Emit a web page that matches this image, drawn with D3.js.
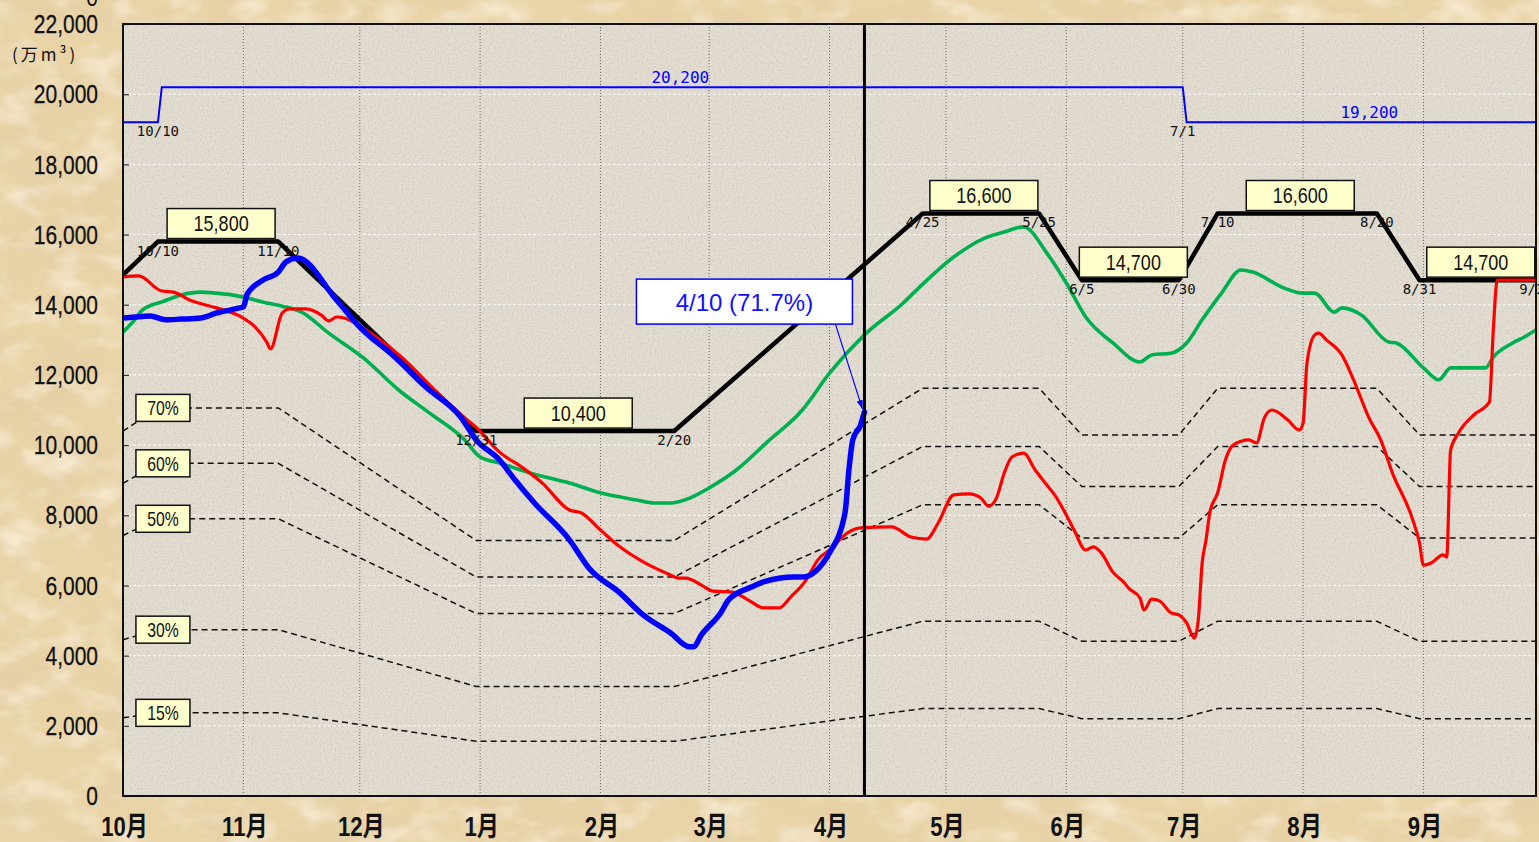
<!DOCTYPE html>
<html><head><meta charset="utf-8">
<script src="https://cdn.jsdelivr.net/npm/d3@7"></script>
<style>
html,body{margin:0;padding:0;overflow:hidden;background:#e8d2a5;}
svg{display:block;}
</style></head>
<body>
<svg id="chart" width="1539" height="842"></svg>
<script>
// ---------------- DATA ----------------
const months = ["10月","11月","12月","1月","2月","3月","4月","5月","6月","7月","8月","9月"];
const yTicks = [0,2000,4000,6000,8000,10000,12000,14000,16000,18000,20000,22000];
const yUnit = "(万m³)";

// rule curve (black)
const ruleDates  = ["10/1","10/10","11/10","12/31","2/20","4/25","5/25","6/5","6/30","7/10","8/20","8/31","9/30"];
const ruleValues = [14850,15800,15800,10400,10400,16600,16600,14700,14700,16600,16600,14700,14700];

// upper limit (thin blue)
const capDates  = ["10/1","10/10","10/11","7/1","7/2","9/30"];
const capValues = [19200,19200,20200,20200,19200,19200];

// percentage guide lines (of rule curve)
const pctLevels = [0.70,0.60,0.50,0.30,0.15];
const pctLabels = ["70%","60%","50%","30%","15%"];

// red series
const redDates = ["10/1","10/5","10/11","10/14","10/18","10/25","10/31","11/4","11/7","11/8","11/11","11/13","11/17","11/21","11/23","11/25","11/27","12/1","12/12","12/20","12/28","12/31",
"1/6","1/12","1/17","1/24","1/27","2/1","2/6","2/12","2/19","2/21","2/23","2/27","3/2","3/7","3/11","3/15","3/19","3/22","3/26","3/29","4/2","4/4","4/9","4/17","4/22","4/26","4/29",
"5/3","5/7","5/10","5/12","5/14","5/16","5/18","5/21","5/24","5/27","5/29","6/1","6/3","6/6","6/8","6/10","6/13","6/16","6/17","6/20","6/21","6/23","6/25","6/28","6/30",
"7/2","7/4","7/5","7/6","7/7","7/8","7/10","7/12","7/14","7/18","7/20","7/22","7/24","7/28","7/31","8/1","8/2","8/4","8/5","8/7","8/11","8/14","8/18","8/21","8/24","8/29","8/31",
"9/1","9/3","9/6","9/7","9/8","9/10","9/14","9/18","9/19","9/20","9/30"];
const redValues = [14790,14820,14390,14360,14140,13910,13680,13370,12940,12740,13760,13880,13880,13710,13540,13650,13620,13390,12480,11600,10780,10500,
9800,9350,8920,8150,8070,7580,7100,6670,6300,6210,6210,6010,5840,5810,5590,5360,5360,5670,6160,6730,7100,7350,7640,7670,7380,7320,7780,
8580,8610,8490,8260,8490,9200,9660,9770,9290,8860,8580,8010,7580,7010,7100,6930,6380,6070,5930,5640,5300,5610,5560,5220,5160,
4930,4500,5020,6640,7300,8090,8640,9580,10000,10150,10060,10770,11000,10720,10430,10630,12340,13140,13190,13000,12570,11860,10770,10150,9210,7950,7210,
6580,6640,6870,6810,9860,10340,10860,11230,13280,14700,14700];

// green series
const greenDates = ["10/1","10/4","10/6","10/11","10/16","10/21","10/25","10/29","11/2","11/7","11/11","11/16","11/23","12/2","12/11","12/19","12/28","1/1",
"1/6","1/14","1/24","2/1","2/10","2/15","2/19","2/24","3/1","3/8","3/16","3/25","4/1","4/10","4/20","4/24","5/3","5/11","5/16","5/21","5/27",
"6/1","6/6","6/13","6/20","6/23","6/28","7/2","7/6","7/11","7/16","7/19","7/27","8/1","8/4","8/9","8/11","8/16","8/23","8/25",
"9/1","9/5","9/8","9/14","9/17","9/19","9/24","9/27","9/30"];
const greenValues = [13220,13570,13850,14080,14280,14360,14330,14280,14190,14050,13960,13790,13190,12480,11570,10910,10150,9660,
9490,9200,8920,8640,8440,8350,8350,8490,8780,9290,10090,11000,12050,13140,14050,14480,15360,15900,16070,16220,15470,
14620,13650,12910,12370,12570,12620,12910,13570,14330,14990,14930,14480,14330,14330,13790,13910,13710,12940,12910,
12200,11860,12200,12200,12200,12510,12910,13080,13280];

// blue series (current year)
const blueDates = ["10/1","10/4","10/8","10/12","10/16","10/21","10/25","10/31","11/1","11/2","11/6","11/10","11/12","11/15","11/25","12/1","12/10","12/18","12/27","12/31",
"1/6","1/10","1/15","1/24","1/29","2/6","2/12","2/19","2/24","2/25","2/27","3/4","3/6","3/12","3/15","3/23","3/25","4/1","4/5","4/6","4/7","4/9","4/10"];
const blueValues = [13620,13650,13680,13570,13590,13620,13760,13910,13940,14300,14700,14930,15220,15330,14135,13365,12510,11655,10800,10145,
9575,9005,8350,7300,6500,5790,5160,4650,4250,4250,4590,5220,5590,5960,6100,6240,6240,6930,8070,9290,10150,10570,10940];

const currentDate = "4/10";
const currentLabel = "4/10 (71.7%)";

// ---------------- CHART ----------------
const W = 1539, H = 842;
const M = {left:123, right:1536, top:24, bottom:796};
const parseMD = s => { const [m,d] = s.split("/").map(Number); return new Date(Date.UTC(m >= 10 ? 2022 : 2023, m-1, d)); };

const x = d3.scaleUtc().domain([parseMD("10/1"), parseMD("9/30")]).range([M.left, M.right]);
const y = d3.scaleLinear().domain([0, 22000]).range([M.bottom, M.top]);

const zip = (ds, vs) => ds.map((d,i) => ({date: parseMD(d), label: d, value: vs[i]}));
const rule = zip(ruleDates, ruleValues);
const cap = zip(capDates, capValues);
const red = zip(redDates, redValues);
const green = zip(greenDates, greenValues);
const blue = zip(blueDates, blueValues);

const svg = d3.select("#chart");
const defs = svg.append("defs");
defs.html(`
<filter id="paper" x="0" y="0" width="1539" height="842" filterUnits="userSpaceOnUse">
  <feTurbulence type="fractalNoise" baseFrequency="0.01 0.018" numOctaves="5" seed="7"/>
  <feColorMatrix type="matrix" values="0 0 0 0 0.78  0 0 0 0 0.62  0 0 0 0 0.38  2.4 0 0 0 -1.05"/>
</filter>
<filter id="paper2" x="0" y="0" width="1539" height="842" filterUnits="userSpaceOnUse">
  <feTurbulence type="fractalNoise" baseFrequency="0.025 0.04" numOctaves="3" seed="21"/>
  <feColorMatrix type="matrix" values="0 0 0 0 0.97  0 0 0 0 0.90  0 0 0 0 0.76  1.7 0 0 0 -0.8"/>
</filter>
<filter id="grain" x="${M.left}" y="${M.top}" width="${M.right-M.left}" height="${M.bottom-M.top}" filterUnits="userSpaceOnUse">
  <feTurbulence type="fractalNoise" baseFrequency="0.6" numOctaves="2" seed="3"/>
  <feColorMatrix type="matrix" values="0 0 0 0 0.55  0 0 0 0 0.52  0 0 0 0 0.47  1.8 0 0 0 -0.85"/>
</filter>
<marker id="arr" viewBox="0 0 10 10" refX="10" refY="5" markerWidth="9" markerHeight="9" markerUnits="userSpaceOnUse" orient="auto">
  <path d="M0,1.5 L10,5 L0,8.5 z" fill="#0000ff"/>
</marker>
<clipPath id="plotclip"><rect x="${M.left}" y="${M.top}" width="${M.right-M.left}" height="${M.bottom-M.top}"/></clipPath>
`);

// background
svg.append("rect").attr("width", W).attr("height", H).attr("fill", "#e9d4a8");
svg.append("rect").attr("width", W).attr("height", H).attr("fill", "#fff").attr("filter", "url(#paper)");
svg.append("rect").attr("width", W).attr("height", H).attr("fill", "#fff").attr("filter", "url(#paper2)");
svg.append("rect").attr("x", M.left).attr("y", M.top).attr("width", M.right-M.left).attr("height", M.bottom-M.top).attr("fill", "#e3ddd1");
svg.append("rect").attr("x", M.left).attr("y", M.top).attr("width", M.right-M.left).attr("height", M.bottom-M.top).attr("fill", "#fff").attr("filter", "url(#grain)");

const monthStarts = months.map((m,i) => new Date(Date.UTC(i < 3 ? 2022 : 2023, (9+i) % 12, 1)));

// gridlines
const grid = svg.append("g");
grid.selectAll("line.h").data(yTicks.filter(v => v > 0 && v < 22000)).join("line")
  .attr("x1", M.left).attr("x2", M.right).attr("y1", d => y(d)).attr("y2", d => y(d))
  .attr("stroke", "#ffffff").attr("stroke-opacity", 0.85).attr("stroke-width", 1).attr("stroke-dasharray", "3,2");
grid.selectAll("line.v").data(monthStarts.slice(1)).join("line")
  .attr("x1", d => x(d)).attr("x2", d => x(d)).attr("y1", M.top).attr("y2", M.bottom)
  .attr("stroke", "#6f6a62").attr("stroke-width", 1).attr("stroke-dasharray", "1,2");

// y axis
const yAxis = svg.append("g").attr("transform", `translate(${M.left},0)`)
  .call(d3.axisLeft(y).tickValues(yTicks).tickFormat(d3.format(",")).tickSize(-6).tickPadding(25));
yAxis.select(".domain").remove();
yAxis.selectAll(".tick line").attr("stroke", "#333").attr("stroke-width", 1.2);
yAxis.selectAll(".tick text")
  .attr("x", null).attr("dy", null)
  .attr("transform", "translate(-25,0) scale(0.84,1)")
  .attr("text-anchor", "end").attr("dominant-baseline", "central")
  .attr("font-family", "'Liberation Sans', Arial, sans-serif").attr("font-size", 25).attr("fill", "#111")
  .attr("stroke", "#111").attr("stroke-width", 0.3);
// stray top label
svg.append("text").attr("transform", "translate(98,-3) scale(0.84,1)").attr("text-anchor", "end")
  .attr("dominant-baseline", "central").attr("font-family", "'Liberation Sans', Arial, sans-serif")
  .attr("font-size", 25).attr("fill", "#111").text("0");
svg.append("text").attr("x", 12).attr("y", 61).attr("font-family", "'Noto Sans CJK JP', sans-serif")
  .attr("font-size", 17).attr("letter-spacing", 3).attr("fill", "#111").text(yUnit);

// x axis
const xAxis = svg.append("g").attr("transform", `translate(0,${M.bottom})`)
  .call(d3.axisBottom(x).tickValues(monthStarts).tickFormat((d,i) => months[i]).tickSize(0).tickPadding(0));
xAxis.select(".domain").remove();
xAxis.selectAll(".tick text")
  .attr("y", null).attr("dy", null)
  .attr("transform", "translate(1,40) scale(0.82,1)")
  .attr("text-anchor", "middle")
  .attr("font-family", "'Liberation Sans', 'Noto Sans CJK JP', sans-serif").attr("font-weight", "bold")
  .attr("font-size", 27).attr("fill", "#111");

const plot = svg.append("g").attr("clip-path", "url(#plotclip)");

// percentage dashed lines
pctLevels.forEach(p => {
  plot.append("path")
    .attr("d", d3.line().x(d => x(d.date)).y(d => y(d.value * p))(rule))
    .attr("fill", "none").attr("stroke", "#111").attr("stroke-width", 1.5).attr("stroke-dasharray", "6,4");
});

// date labels at rule vertices and cap vertices
const monoFont = "'DejaVu Sans Mono', monospace";
const dateLabelG = svg.append("g");
rule.slice(1).forEach(d => {
  dateLabelG.append("text").attr("x", x(d.date)).attr("y", y(d.value) + 14)
    .attr("text-anchor", "middle").attr("font-family", monoFont).attr("font-size", 14).attr("fill", "#111").text(d.label);
});
// cap change dates, labelled under the lower level
[[cap[1], cap[1]], [cap[3], cap[4]]].forEach(([a, lo]) => {
  dateLabelG.append("text").attr("x", x(a.date)).attr("y", y(lo.value) + 14)
    .attr("text-anchor", "middle").attr("font-family", monoFont).attr("font-size", 14).attr("fill", "#111").text(a.label);
});
// cap value labels
[[cap[2], cap[3]], [cap[4], cap[5]]].forEach(([a,b]) => {
  svg.append("text").attr("x", (x(a.date) + x(b.date)) / 2 + 8).attr("y", y(a.value) - 4)
    .attr("text-anchor", "middle").attr("font-family", monoFont).attr("font-size", 16).attr("fill", "#0000ff")
    .text(d3.format(",")(a.value));
});

// series lines
const lineLin = d3.line().x(d => x(d.date)).y(d => y(d.value));
const lineSm = d3.line().x(d => x(d.date)).y(d => y(d.value)).curve(d3.curveMonotoneX);

plot.append("path").attr("d", lineLin(rule)).attr("fill", "none").attr("stroke", "#000").attr("stroke-width", 4.5).attr("stroke-linejoin", "round");
plot.append("path").attr("d", lineLin(cap)).attr("fill", "none").attr("stroke", "#0000ff").attr("stroke-width", 2);
plot.append("path").attr("d", lineSm(green)).attr("fill", "none").attr("stroke", "#00b050").attr("stroke-width", 3.6).attr("stroke-linejoin", "round");
plot.append("path").attr("d", lineSm(red)).attr("fill", "none").attr("stroke", "#ff0000").attr("stroke-width", 3.2).attr("stroke-linejoin", "round");
plot.append("path").attr("d", lineSm(blue)).attr("fill", "none").attr("stroke", "#0000ff").attr("stroke-width", 5.5).attr("stroke-linejoin", "round").attr("stroke-linecap", "round");

// percentage label boxes
const boxFont = "'Liberation Sans', Arial, sans-serif";
pctLevels.forEach((p,i) => {
  const cx = x(rule[1].date) + 5, cy = y(rule[1].value * p);
  const g = svg.append("g").attr("transform", `translate(${cx},${cy})`);
  g.append("rect").attr("x", -27).attr("y", -13.5).attr("width", 54).attr("height", 27)
    .attr("fill", "#ffffcc").attr("stroke", "#111").attr("stroke-width", 1.5);
  g.append("text").attr("transform", "scale(0.75,1)").attr("text-anchor", "middle").attr("dominant-baseline", "central")
    .attr("font-family", boxFont).attr("font-size", 21).attr("fill", "#111").text(pctLabels[i]);
});

// value boxes on flat rule segments
for (let i = 1; i < rule.length - 1; i++) {
  if (rule[i].value === rule[i+1].value) {
    const cx = (x(rule[i].date) + x(rule[i+1].date)) / 2 + 3;
    const by = y(rule[i].value) - 3;
    const g = svg.append("g").attr("transform", `translate(${cx},${by})`);
    g.append("rect").attr("x", -54).attr("y", -30).attr("width", 108).attr("height", 30)
      .attr("fill", "#ffffcc").attr("stroke", "#111").attr("stroke-width", 1.5);
    g.append("text").attr("transform", "translate(0,-15) scale(0.82,1)").attr("text-anchor", "middle").attr("dominant-baseline", "central")
      .attr("font-family", boxFont).attr("font-size", 22).attr("fill", "#111").text(d3.format(",")(rule[i].value));
  }
}

// current date vertical line
const cur = blue[blue.length - 1];
const cxLine = x(parseMD(currentDate));
svg.append("line").attr("x1", cxLine).attr("x2", cxLine).attr("y1", M.top).attr("y2", M.bottom)
  .attr("stroke", "#000").attr("stroke-width", 3);

// annotation
const ex = x(cur.date), ey = y(cur.value);
const ann = svg.append("g");
ann.append("line").attr("x1", ex - 29).attr("y1", ey - 88).attr("x2", ex - 2).attr("y2", ey - 3)
  .attr("stroke", "#0000ff").attr("stroke-width", 1.2).attr("marker-end", "url(#arr)");
ann.append("rect").attr("x", ex - 228).attr("y", ey - 133).attr("width", 216).attr("height", 45)
  .attr("fill", "#ffffff").attr("stroke", "#0000ff").attr("stroke-width", 1.5);
ann.append("text").attr("x", ex - 120).attr("y", ey - 110).attr("text-anchor", "middle").attr("dominant-baseline", "central")
  .attr("font-family", boxFont).attr("font-size", 24).attr("fill", "#1010ff").text(currentLabel);

// plot border
svg.append("rect").attr("x", M.left).attr("y", M.top).attr("width", M.right-M.left).attr("height", M.bottom-M.top)
  .attr("fill", "none").attr("stroke", "#111").attr("stroke-width", 2);
</script>
</body></html>
